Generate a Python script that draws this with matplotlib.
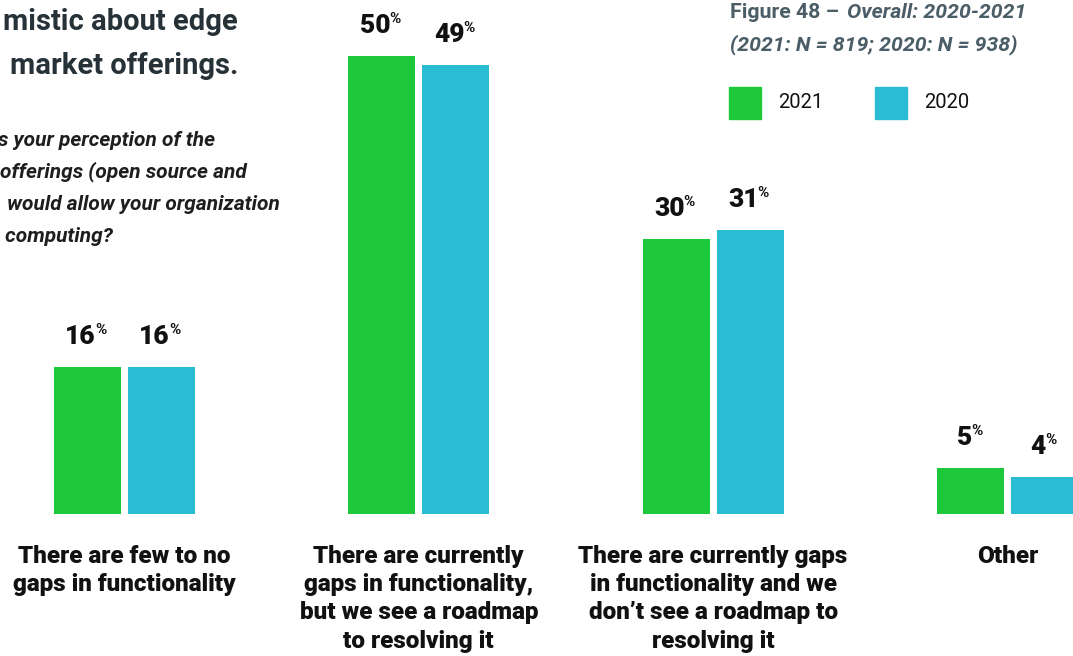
import matplotlib.pyplot as plt
import numpy as np

# chart data
categories = [
    "There are few to no\ngaps in functionality",
    "There are currently\ngaps in functionality,\nbut we see a roadmap\nto resolving it",
    "There are currently gaps\nin functionality and we\ndon\u2019t see a roadmap to\nresolving it",
    "Other",
]
values_2021 = [16, 50, 30, 5]
values_2020 = [16, 49, 31, 4]
series_names = ["2021", "2020"]

GREEN = "#1dc83a"
CYAN = "#29bcd3"
W, H = 1073, 656

plt.rcParams["font.family"] = ["Roboto", "DejaVu Sans"]

fig = plt.figure(figsize=(W / 100, H / 100), dpi=100)
ax = fig.add_axes([0, 1 - 514 / H, 1, 514 / H])

x = np.arange(len(categories))
bw = 0.2277
gap = 0.0238
off = bw / 2 + gap / 2

ax.bar(x - off, values_2021, bw, color=GREEN)
ax.bar(x + off, values_2020, bw, color=CYAN)

ax.set_xlim(-0.423, 3.223)
ax.set_ylim(0, 56.1)
for s in ax.spines.values():
    s.set_visible(False)
ax.set_yticks([])
ax.set_xticks(x)
ax.set_xticklabels(categories, fontsize=17.5, fontweight="heavy", color="#111111")
ax.tick_params(axis="x", length=0, pad=22)
for lbl in ax.get_xticklabels():
    lbl.set_linespacing(1.3)
    lbl.set_verticalalignment("top")


def label(xpos, val):
    n = len(str(val))
    total = 14 * n + 11
    right = -total / 2 + 14 * n
    ax.annotate(str(val), (xpos, val), xytext=(right, 23), textcoords="offset pixels",
                ha="right", va="baseline", fontsize=19, fontweight="heavy", color="#111111")
    ax.annotate("%", (xpos, val), xytext=(right - 1, 33), textcoords="offset pixels",
                ha="left", va="baseline", fontsize=11, fontweight="bold", color="#111111")


for i in range(len(categories)):
    label(x[i] - off, values_2021[i])
    label(x[i] + off, values_2020[i])


def px(xp, yp):
    return xp / W, 1 - yp / H


# headline (cropped in the source)
fig.text(*px(238, 22), "mistic about edge", ha="right", va="center",
         fontsize=21, fontweight="bold", color="#263238")
fig.text(*px(238, 66), "market offerings.", ha="right", va="center",
         fontsize=21, fontweight="bold", color="#263238")

question = ["s your perception of the", "offerings (open source and",
            " would allow your organization", " computing?"]
qx = [-2, 0, 2, 0]
for i, line in enumerate(question):
    fig.text(*px(qx[i], 140 + 32 * i), line, ha="left", va="center",
             fontsize=15, fontweight="semibold", style="italic", color="#1e1e1e")

# figure caption
fig.text(*px(730, 12), "Figure 48 \u2013", ha="left", va="center",
         fontsize=15.3, fontweight="bold", color="#4b5d67")
fig.text(*px(847, 12), "Overall: 2020-2021", ha="left", va="center",
         fontsize=15.3, fontweight="bold", style="italic", color="#4b5d67")
fig.text(*px(730, 45), "(2021: N = 819; 2020: N = 938)", ha="left", va="center",
         fontsize=15.3, fontweight="bold", style="italic", color="#4b5d67")

# legend
for sx, c, name in [(729, GREEN, series_names[0]), (875, CYAN, series_names[1])]:
    fig.patches.append(plt.Rectangle(px(sx, 119), 32 / W, 32 / H, color=c,
                                     transform=fig.transFigure, figure=fig))
    fig.text(*px(sx + 49, 103), name, ha="left", va="center",
             fontsize=14.5, color="#111111")

fig.savefig("out.png", dpi=100)
